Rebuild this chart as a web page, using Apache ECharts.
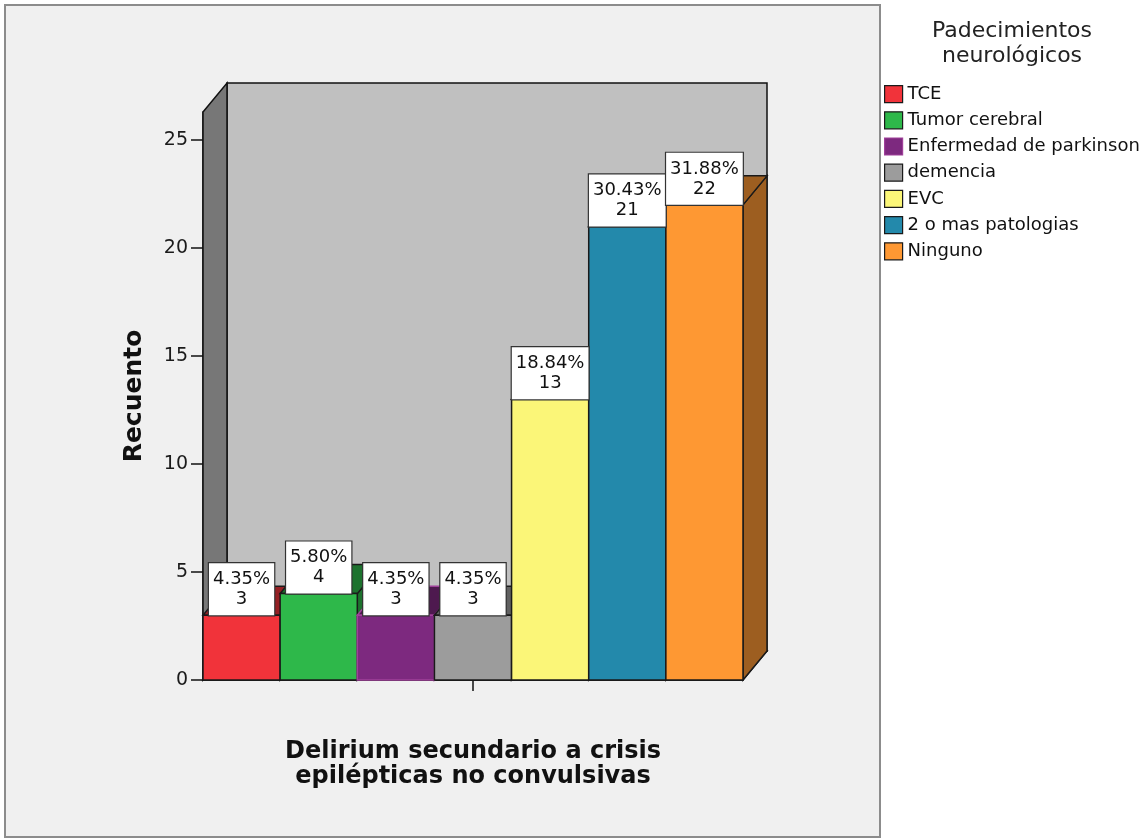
<!DOCTYPE html>
<html>
<head>
<meta charset="utf-8">
<script src="https://cdn.jsdelivr.net/npm/echarts@6/dist/echarts.min.js"></script>
<style>
  html, body { margin: 0; padding: 0; background: #ffffff; }
  #chart { width: 1145px; height: 839px; }
</style>
</head>
<body>
<div id="chart"></div>
<script>
// Counts of neurological conditions among patients with delirium
const categories = ['TCE', 'Tumor cerebral', 'Enfermedad de parkinson', 'demencia', 'EVC', '2 o mas patologias', 'Ninguno'];
const counts = [3, 4, 3, 3, 13, 21, 22];
const colors = ['#f1333a', '#2eb84a', '#7d297f', '#9c9c9c', '#fbf678', '#2389ab', '#fe9833'];
const edgeColors = ['#1a1a1a', '#1a1a1a', '#a0409a', '#1a1a1a', '#1a1a1a', '#1a1a1a', '#1a1a1a'];
const yTicks = [0, 5, 10, 15, 20, 25];
const groupLabel = ['Delirium secundario a crisis\nepilépticas no convulsivas'];
const legendTitle = 'Padecimientos\nneurológicos';
const wallTop = 26.3;

const total = counts.reduce((a, b) => a + b, 0);
// pseudo-3D depth offset (pixels)
const DX = 24, DY = -29;
const FONT = '"DejaVu Sans", sans-serif';

function shade(hex, k) {
  const n = parseInt(hex.slice(1), 16);
  const r = Math.round(((n >> 16) & 255) * k);
  const g = Math.round(((n >> 8) & 255) * k);
  const b = Math.round((n & 255) * k);
  return 'rgb(' + r + ',' + g + ',' + b + ')';
}

const chart = echarts.init(document.getElementById('chart'), null, { renderer: 'canvas' });

// walls: back wall, floor, left side wall
const wallSeries = {
  type: 'custom',
  name: '__walls',
  z: 1,
  silent: true,
  clip: false,
  data: [[0, wallTop]],
  renderItem: function (params, api) {
    const base = api.coord([0, 0]);
    const topPt = api.coord([0, api.value(1)]);
    const band = api.size([1, 0])[0];
    const L = base[0] - band / 2, R = base[0] + band / 2;
    const y0 = base[1], yT = topPt[1];
    const line = { stroke: '#111', lineWidth: 1.5 };
    return {
      type: 'group',
      children: [
        { type: 'rect', shape: { x: L + DX, y: yT + DY, width: R - L, height: y0 - yT },
          style: Object.assign({ fill: '#c0c0c0' }, line) },
        { type: 'polygon', shape: { points: [[L, y0], [R, y0], [R + DX, y0 + DY], [L + DX, y0 + DY]] },
          style: Object.assign({ fill: '#a0a0a0' }, line) },
        { type: 'polygon', shape: { points: [[L, yT], [L + DX, yT + DY], [L + DX, y0 + DY], [L, y0]] },
          style: Object.assign({ fill: '#777777' }, line) }
      ]
    };
  }
};

const barSeries = categories.map(function (name, i) {
  return {
    type: 'custom',
    name: name,
    z: 2,
    clip: false,
    itemStyle: { color: colors[i] },
    data: [[0, counts[i]]],
    renderItem: function (params, api) {
      const v = api.value(1);
      const base = api.coord([0, 0]);
      const top = api.coord([0, v]);
      const band = api.size([1, 0])[0];
      const bw = band / categories.length;
      const x0 = base[0] - band / 2 + i * bw, x1 = x0 + bw;
      const y0 = base[1], yv = top[1];
      const dark = shade(colors[i], 0.62);
      const edge = { stroke: edgeColors[i], lineWidth: 1.5 };
      const pct = (v / total * 100).toFixed(2) + '%';
      return {
        type: 'group',
        children: [
          { type: 'polygon', z2: i * 3,
            shape: { points: [[x1, yv], [x1 + DX, yv + DY], [x1 + DX, y0 + DY], [x1, y0]] },
            style: Object.assign({ fill: dark }, edge) },
          { type: 'polygon', z2: i * 3 + 1,
            shape: { points: [[x0, yv], [x1, yv], [x1 + DX, yv + DY], [x0 + DX, yv + DY]] },
            style: Object.assign({ fill: dark }, edge) },
          { type: 'rect', z2: i * 3 + 2,
            shape: { x: x0, y: yv, width: bw, height: y0 - yv },
            style: Object.assign({ fill: colors[i] }, edge) },
          { type: 'text', z2: 100,
            style: {
              x: (x0 + x1) / 2, y: yv,
              text: pct + '\n' + v,
              align: 'center', verticalAlign: 'bottom',
              font: '18px ' + FONT, fill: '#111', lineHeight: 20,
              backgroundColor: '#ffffff', borderColor: '#333333', borderWidth: 1.2,
              padding: [6, 4, 6, 4]
            } }
        ]
      };
    }
  };
});

chart.setOption({
  animation: false,
  backgroundColor: '#ffffff',
  graphic: [
    { type: 'rect', z: 0, silent: true,
      shape: { x: 5, y: 5, width: 875, height: 832 },
      style: { fill: '#f0f0f0', stroke: '#8c8c8c', lineWidth: 2 } },
    { type: 'text', z: 5, x: 1012, y: 19,
      style: { text: legendTitle, align: 'center', verticalAlign: 'top',
               font: '22px ' + FONT, fill: '#222', lineHeight: 25 } }
  ],
  legend: {
    orient: 'vertical',
    left: 884, top: 85,
    padding: 0,
    icon: 'rect',
    itemWidth: 18, itemHeight: 17, itemGap: 8,
    selectedMode: false,
    textStyle: { fontFamily: FONT, fontSize: 18, color: '#111', lineHeight: 17 },
    data: categories.map(function (n, i) {
      return { name: n, itemStyle: { borderColor: edgeColors[i], borderWidth: 1.2 } };
    })
  },
  grid: { left: 203, right: 402, top: 112, bottom: 159 },
  xAxis: {
    type: 'category',
    data: groupLabel,
    boundaryGap: true,
    axisLine: { show: true, lineStyle: { color: '#111', width: 1.5 } },
    axisTick: { show: true, alignWithLabel: true, length: 11, lineStyle: { color: '#111', width: 1.5 } },
    axisLabel: { show: false },
    name: groupLabel[0],
    nameLocation: 'middle',
    nameGap: 59,
    nameTextStyle: { fontFamily: FONT, fontSize: 24, fontWeight: 'bold', color: '#111', lineHeight: 25 }
  },
  yAxis: {
    type: 'value',
    min: 0, max: wallTop,
    splitLine: { show: false },
    axisLine: { show: true, lineStyle: { color: '#111', width: 1.5 } },
    axisTick: { show: true, length: 12, customValues: yTicks, lineStyle: { color: '#111', width: 1.5 } },
    axisLabel: { customValues: yTicks, margin: 15, fontFamily: FONT, fontSize: 19, color: '#1a1a1a' },
    name: 'Recuento',
    nameLocation: 'middle',
    nameGap: 56,
    nameTextStyle: { fontFamily: FONT, fontSize: 25, fontWeight: 'bold', color: '#111' }
  },
  series: [wallSeries].concat(barSeries)
});
</script>
</body>
</html>
